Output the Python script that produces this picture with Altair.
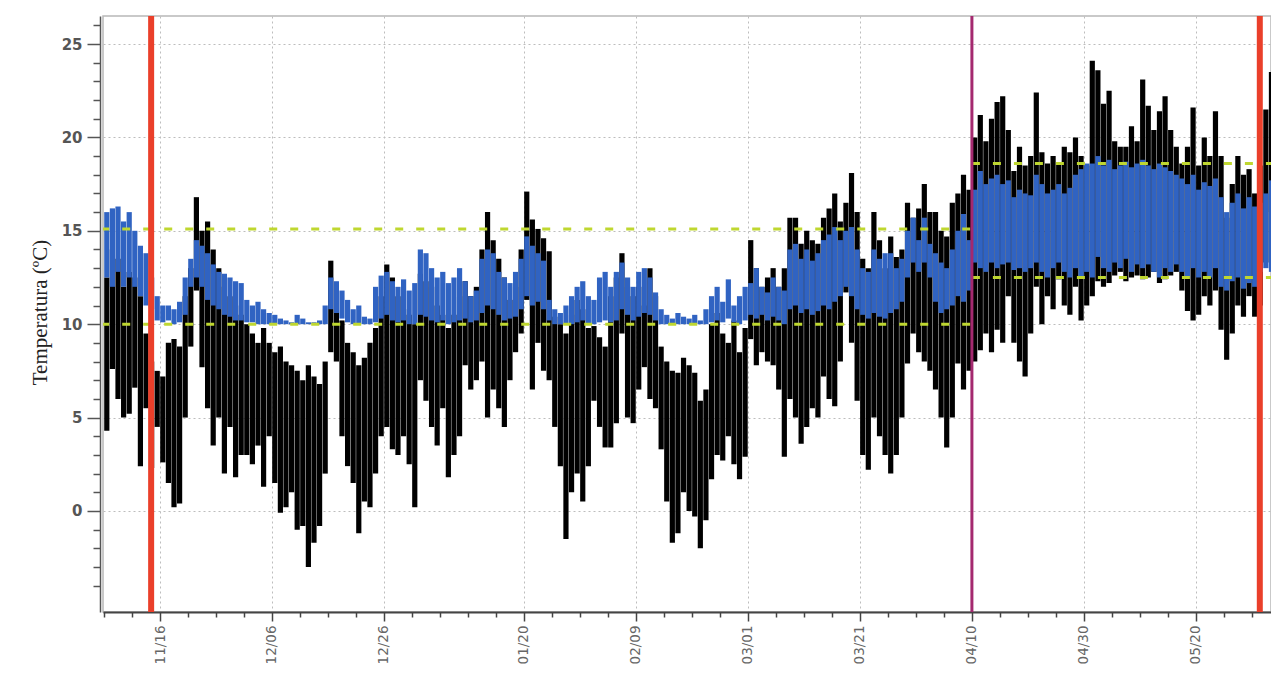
import altair as alt
import pandas as pd

# ---- daily extremes (Nov 6 2014 .. Jun 3 2015) ----
month_days = [25, 31, 31, 28, 31, 30, 31, 3]

out_hi = [
    [12.5, 14.0, 13.5, 12.0, 12.8, 12.5, 11.5, 9.5, 8.0, 7.5, 7.2, 9.0, 9.2, 8.8, 11.5, 13.0, 16.8, 15.0, 15.5, 14.0, 13.0, 12.0, 11.5, 11.0, 10.5],
    [10.0, 9.5, 9.0, 9.8, 9.0, 8.5, 8.8, 8.0, 7.8, 7.5, 7.0, 7.8, 7.2, 6.8, 8.0, 13.4, 10.8, 10.2, 9.0, 8.5, 7.8, 8.2, 9.0, 9.8, 11.5, 13.2, 12.5, 11.5, 10.8, 10.5, 10.0],
    [12.7, 12.3, 12.0, 11.0, 10.5, 9.8, 10.5, 11.5, 12.3, 11.5, 12.0, 14.0, 16.0, 14.5, 13.5, 12.5, 11.3, 12.0, 14.0, 17.1, 15.6, 15.1, 14.6, 13.9, 10.4, 10.0, 9.5, 10.5, 11.3, 10.8, 9.8],
    [9.9, 9.3, 8.8, 11.5, 12.5, 13.8, 12.0, 11.5, 12.0, 11.0, 13.0, 11.5, 8.8, 8.0, 7.5, 7.4, 8.2, 7.8, 7.4, 5.9, 6.5, 10.0, 10.6, 9.5, 9.0, 10.2, 8.5, 9.8],
    [14.5, 13.0, 12.0, 12.5, 13.0, 12.0, 13.0, 15.7, 15.7, 14.3, 15.0, 14.5, 14.3, 15.7, 16.2, 17.0, 15.5, 16.5, 18.1, 16.0, 13.5, 13.0, 16.0, 14.5, 13.0, 14.7, 13.6, 14.0, 16.5, 15.7, 16.2],
    [17.5, 16.0, 16.0, 15.0, 14.7, 16.5, 17.0, 18.0, 17.2, 20.0, 21.2, 19.8, 21.0, 21.9, 22.2, 20.4, 18.2, 19.5, 18.5, 19.0, 22.4, 19.2, 18.6, 19.0, 18.6, 19.5, 19.2, 20.0, 19.0, 18.5],
    [24.1, 23.6, 21.8, 22.5, 19.8, 19.5, 19.5, 20.6, 19.8, 23.1, 21.7, 20.4, 21.4, 22.2, 20.4, 19.5, 18.6, 19.5, 21.6, 18.5, 20.0, 19.0, 21.4, 19.0, 15.7, 17.5, 19.0, 18.0, 18.3, 17.0, 18.5],
    [21.5, 23.5, 25.5],
]
out_lo = [
    [4.3, 7.6, 6.0, 5.0, 5.2, 6.6, 2.4, 5.5, 2.3, 4.5, 2.6, 1.5, 0.2, 0.4, 5.0, 8.8, 11.8, 7.7, 5.5, 3.5, 5.0, 2.0, 4.5, 1.8, 3.0],
    [3.0, 2.5, 3.5, 1.3, 4.0, 1.5, -0.1, 0.2, 1.0, -1.0, -0.8, -3.0, -1.7, -0.8, 2.0, 8.5, 8.0, 4.0, 2.4, 1.5, -1.2, 0.5, 0.2, 2.0, 4.0, 4.5, 3.3, 3.0, 4.0, 2.5, 0.2],
    [7.0, 5.9, 4.5, 3.5, 5.5, 1.8, 3.0, 4.0, 7.8, 6.5, 7.0, 8.0, 5.0, 6.5, 5.5, 4.5, 7.0, 8.5, 9.5, 11.3, 6.5, 9.0, 7.5, 7.0, 4.5, 2.4, -1.5, 1.0, 2.0, 0.5, 2.4],
    [5.9, 4.5, 3.4, 3.4, 4.7, 9.5, 5.0, 4.7, 6.5, 7.7, 6.0, 5.5, 3.3, 0.5, -1.7, -1.2, 1.0, 0.0, -0.3, -2.0, -0.5, 1.7, 3.0, 2.7, 4.0, 2.5, 1.7, 2.9],
    [9.2, 7.8, 8.5, 8.0, 7.8, 6.5, 2.9, 6.0, 5.0, 3.6, 4.5, 5.5, 5.0, 7.2, 6.0, 5.6, 8.0, 11.7, 9.0, 5.9, 3.0, 2.2, 5.0, 4.0, 3.0, 2.0, 3.0, 5.0, 7.9, 9.5, 8.5],
    [8.0, 7.5, 6.5, 5.0, 3.4, 5.0, 7.9, 6.5, 7.5, 8.0, 8.6, 9.5, 8.5, 9.7, 9.0, 11.5, 9.0, 8.0, 7.2, 9.5, 12.0, 10.0, 11.5, 10.8, 12.4, 11.0, 10.5, 12.0, 10.2, 11.0],
    [11.5, 12.3, 12.0, 12.2, 12.6, 12.8, 12.3, 12.5, 12.6, 12.4, 12.5, 12.8, 12.2, 12.4, 12.6, 12.8, 11.8, 10.7, 10.2, 10.5, 11.5, 11.0, 11.8, 9.7, 8.1, 9.5, 11.0, 10.4, 11.5, 10.4, 11.0],
    [13.3, 16.0, 14.5],
]
in_hi = [
    [16.0, 16.2, 16.3, 15.5, 16.0, 15.0, 14.2, 13.8, 12.5, 11.5, 11.0, 11.0, 10.8, 11.2, 12.5, 13.5, 14.5, 14.2, 13.8, 13.2, 12.8, 12.7, 12.5, 12.3, 12.2],
    [11.3, 11.0, 11.2, 10.8, 10.6, 10.5, 10.3, 10.2, 10.1, 10.5, 10.3, 10.1, 10.1, 10.2, 11.0, 12.5, 12.3, 11.8, 11.3, 10.8, 11.0, 10.4, 10.3, 12.0, 12.6, 12.8, 12.3, 12.0, 12.4, 11.8, 12.2],
    [14.0, 13.8, 13.0, 12.5, 12.8, 12.2, 12.5, 13.0, 12.3, 11.5, 11.8, 13.5, 14.0, 13.8, 12.8, 12.5, 12.2, 12.8, 13.5, 14.7, 14.2, 13.8, 13.4, 11.3, 10.8, 10.6, 11.0, 11.5, 12.0, 12.3, 11.5],
    [11.3, 12.5, 12.8, 12.0, 12.8, 13.3, 12.5, 12.0, 12.8, 13.0, 12.5, 11.7, 10.8, 10.5, 10.3, 10.6, 10.4, 10.3, 10.5, 10.2, 10.8, 11.5, 12.0, 11.2, 12.4, 11.0, 11.5, 12.0],
    [12.2, 13.0, 12.0, 11.7, 12.5, 12.0, 11.8, 14.0, 14.3, 13.5, 14.0, 13.4, 13.8, 14.5, 14.8, 15.2, 14.5, 15.0, 15.2, 14.0, 13.0, 12.8, 14.0, 13.5, 13.8, 13.8, 13.0, 13.5, 15.0, 15.7, 14.5],
    [15.7, 14.3, 13.8, 13.3, 13.0, 14.0, 15.0, 15.9, 14.5, 17.2, 18.2, 17.5, 17.8, 18.0, 17.5, 17.7, 16.8, 17.2, 17.0, 16.9, 18.0, 17.5, 17.0, 17.2, 17.5, 17.0, 17.3, 18.0, 18.3, 18.6],
    [18.6, 19.0, 18.5, 18.8, 18.3, 18.5, 18.7, 18.4, 18.6, 18.8, 18.5, 18.3, 18.6, 18.4, 18.2, 18.0, 17.8, 17.5, 18.0, 17.2, 17.6, 17.4, 17.8, 16.8, 16.0, 16.5, 17.0, 16.2, 16.8, 16.3, 16.5],
    [17.0, 17.7, 16.8],
]
in_lo = [
    [12.5, 12.0, 12.8, 12.0, 12.5, 12.0, 11.5, 11.0, 10.8, 10.2, 10.1, 10.2, 10.0, 10.1, 10.5, 12.0, 12.5, 12.0, 11.3, 11.0, 10.8, 10.5, 10.4, 10.2, 10.2],
    [10.1, 10.1, 10.0, 10.0, 10.0, 10.0, 10.0, 10.0, 10.0, 10.0, 10.0, 10.0, 10.0, 10.0, 10.0, 10.8, 10.6, 10.3, 10.1, 10.0, 10.0, 10.0, 10.0, 10.1, 10.3, 10.5, 10.2, 10.1, 10.2, 10.0, 10.0],
    [10.5, 10.4, 10.2, 10.1, 10.2, 10.0, 10.1, 10.2, 10.3, 10.1, 10.2, 10.6, 11.0, 10.8, 10.5, 10.2, 10.3, 10.4, 10.8, 11.5, 11.0, 11.2, 10.8, 10.2, 10.0, 10.0, 10.0, 10.0, 10.1, 10.2, 10.0],
    [10.0, 10.1, 10.2, 10.1, 10.2, 10.8, 10.5, 10.2, 10.4, 10.6, 10.5, 10.2, 10.0, 10.0, 10.0, 10.0, 10.0, 10.0, 10.0, 10.0, 10.0, 10.1, 10.2, 10.1, 10.3, 10.1, 10.0, 10.2],
    [10.5, 10.3, 10.5, 10.2, 10.4, 10.2, 10.0, 10.8, 11.0, 10.6, 10.8, 10.5, 10.7, 11.0, 10.8, 11.2, 11.5, 12.0, 11.5, 10.8, 10.5, 10.3, 10.6, 10.4, 10.3, 10.6, 10.8, 11.2, 12.5, 13.3, 12.8],
    [13.3, 12.5, 11.2, 10.6, 10.8, 11.0, 11.5, 11.2, 11.8, 13.3, 13.0, 12.8, 13.3, 13.0, 13.2, 13.3, 12.9, 13.0, 12.8, 13.0, 13.3, 12.8, 12.5, 13.0, 13.3, 12.8, 12.5, 13.0, 12.5, 12.8],
    [12.5, 13.6, 13.0, 12.8, 13.3, 13.0, 13.5, 12.8, 13.2, 13.0, 13.2, 12.8, 12.5, 13.0, 12.8, 13.2, 12.8, 12.5, 13.0, 12.5, 12.8, 12.5, 13.0, 12.0, 11.8, 12.3, 12.5, 11.9, 12.2, 12.0, 12.8],
    [13.0, 12.8, 13.3],
]

# set-point bands (dashed lines)
band_start = ["2014-11-05T12:00:00", "2015-04-10T00:00:00"]
band_end = ["2015-04-10T00:00:00", "2015-06-04T00:00:00"]
band_low = [10.0, 12.5]
band_high = [15.1, 18.6]

# vertical markers
red_marks = ["2014-11-14T10:00:00", "2015-05-31T10:00:00"]
purple_marks = ["2015-04-10T00:00:00"]

tick_labels = ["11/16", "12/06", "12/26", "01/20", "02/09", "03/01",
               "03/21", "04/10", "04/30", "05/20"]


def flatten(series, name):
    flat = []
    for m, (vals, n) in enumerate(zip(series, month_days)):
        assert len(vals) == n, f"{name} month {m}: {len(vals)} != {n}"
        flat.extend(vals)
    return flat


def daily(lo, hi):
    t0 = pd.Timestamp("2014-11-06")
    return pd.DataFrame({
        "t": [(t0 + pd.Timedelta(days=i, hours=12)).isoformat() for i in range(len(lo))],
        "v": lo,
        "v2": hi,
    })


o_lo, o_hi = flatten(out_lo, "out_lo"), flatten(out_hi, "out_hi")
i_lo, i_hi = flatten(in_lo, "in_lo"), flatten(in_hi, "in_hi")
outdoor_d, indoor_d = daily(o_lo, o_hi), daily(i_lo, i_hi)

bands = pd.DataFrame({
    "t": band_start + band_start,
    "t2": band_end + band_end,
    "v": band_low + band_high,
})
reds = pd.DataFrame({"t": red_marks})
purples = pd.DataFrame({"t": purple_marks})

minor_dates = pd.date_range("2014-11-06", "2015-06-01", freq="5D")
minor_dt = [alt.DateTime(year=d.year, month=d.month, date=d.day) for d in minor_dates]

major_test = ("indexof([" + ",".join(f"'{s}'" for s in tick_labels)
              + "], timeFormat(datum.value, '%m/%d')) >= 0")

xscale = alt.Scale(domain=[alt.DateTime(year=2014, month=11, date=5, hours=19, minutes=40),
                           alt.DateTime(year=2015, month=6, date=2, hours=10)], nice=False)
yscale = alt.Scale(domain=[-5.41, 26.5], nice=False, zero=False)

xaxis = alt.Axis(
    values=minor_dt,
    labelExpr=f"{major_test} ? timeFormat(datum.value, '%m/%d') : ''",
    labelAngle=270, labelFont="DejaVu Sans", labelFontSize=13.5, labelColor="#666666",
    labelPadding=4, labelOverlap=False, labelBound=False, labelFlush=False,
    tickColor="#444444", tickWidth=1.5, tickSize=9,
    tickDash={"condition": {"test": major_test, "value": []}, "value": [5, 40]},
    domainColor="#444444", domainWidth=2,
    grid=True, gridColor="#bdbdbd", gridDash=[2, 3], gridWidth=1,
    gridOpacity={"condition": {"test": major_test, "value": 1}, "value": 0},
    title=None,
)
ytest = "datum.value % 5 === 0"
yaxis = alt.Axis(
    values=list(range(-4, 27)),
    labelExpr=f"{ytest} ? datum.label : ''",
    labelFont="DejaVu Sans", labelFontSize=15, labelFontWeight="bold", labelColor="#555555",
    labelPadding=5, labelOverlap=False,
    tickColor="#555555", tickWidth=1.5, tickSize=13,
    tickDash={"condition": {"test": ytest, "value": []}, "value": [7, 40]},
    domainColor="#555555", domainWidth=1.5, offset=3,
    grid=True, gridColor="#bdbdbd", gridDash=[2, 3], gridWidth=1,
    gridOpacity={"condition": {"test": ytest, "value": 1}, "value": 0},
    title="Temperatura (ºC)", titleFont="Liberation Serif", titleFontSize=21,
    titleFontWeight="normal", titleColor="#222222",
    titleAngle=270, titleAlign="center", titleBaseline="middle",
    titleX=-60, titleY=296,
)

X = alt.X("t:T", scale=xscale, axis=xaxis)
Y = alt.Y("v:Q", scale=yscale, axis=yaxis)

black_bars = alt.Chart(outdoor_d).mark_rule(color="#000000", strokeWidth=5.2, clip=True).encode(
    x=X, y=Y, y2="v2:Q")
blue_bars = alt.Chart(indoor_d).mark_rule(color="#3063c2", strokeWidth=5.2, clip=True).encode(
    x=X, y=Y, y2="v2:Q")
dashed = alt.Chart(bands).mark_rule(color="#bfd730", strokeWidth=3, strokeDash=[8, 13], clip=True).encode(
    x=X, x2="t2:T", y=Y)
red = alt.Chart(reds).mark_rule(color="#ea3f2a", strokeWidth=6).encode(x=X)
purple = alt.Chart(purples).mark_rule(color="#a4296f", strokeWidth=3).encode(x=X)

chart = alt.layer(black_bars, blue_bars, dashed, red, purple).properties(
    width=1168, height=596,
    autosize=alt.AutoSizeParams(type="none"),
    padding={"left": 95, "top": 8, "right": 0, "bottom": 53},
    background="white",
).configure_view(stroke="#b8b8b8", strokeWidth=1.5)

chart.save("out.html", embed_options={"renderer": "svg", "actions": False})
